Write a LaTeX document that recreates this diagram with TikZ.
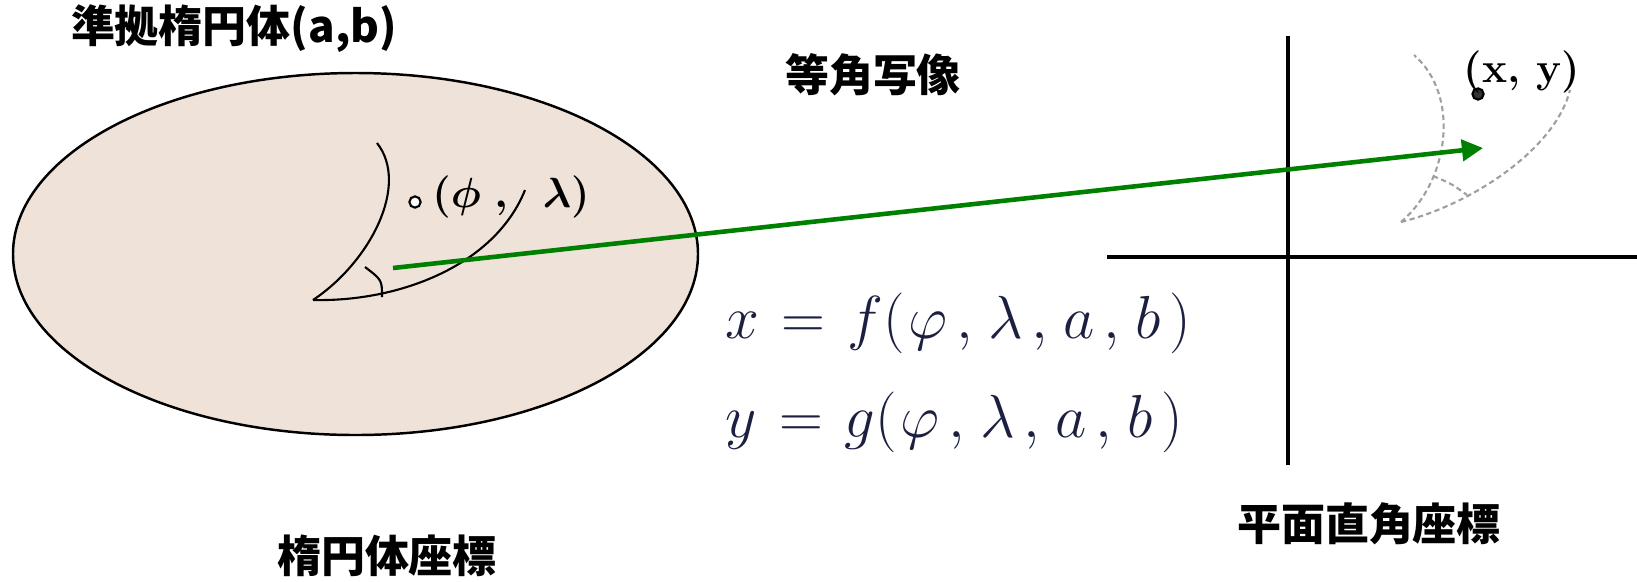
\documentclass[tikz,border=0pt]{standalone}
\usepackage{amsmath}
\usepackage{fontspec}
\newfontfamily\jpfont{Noto Sans CJK JP}
\usetikzlibrary{arrows.meta}
\definecolor{ellfill}{RGB}{239,226,217}
\definecolor{mapgreen}{RGB}{0,128,0}
\definecolor{eqnavy}{RGB}{28,32,64}
\begin{document}
\begin{tikzpicture}[
  x=0.01cm,y=-0.01cm,
  axis/.style={line width=1.1pt},
  curve/.style={line width=0.6pt},
  ghost/.style={line width=0.6pt,gray!75,dash pattern=on 1.5pt off 1pt},
  label/.style={font=\jpfont\bfseries\fontsize{12.5}{14}\selectfont,inner sep=0pt},
  coordlabel/.style={font=\bfseries\boldmath\fontsize{12}{14}\selectfont,inner sep=0pt},
  eqn/.style={font=\fontsize{17}{20}\selectfont,text=eqnavy,inner sep=0pt,anchor=west},
  pt/.style={circle,draw,inner sep=0pt,minimum size=3.2pt,line width=0.6pt}]
  \useasboundingbox (0,0) rectangle (1637,581);
  % ellipsoid
  \draw[line width=0.7pt,fill=ellfill] (355.5,254) ellipse [x radius=342.5,y radius=181];
  % plane axes
  \coordinate (AL) at (1107,257);
  \coordinate (AR) at (1637,257);
  \coordinate (AT) at (1288,36);
  \coordinate (AB) at (1288,465);
  \draw[axis] (AL)--(AR) (AT)--(AB);
  % curves on the ellipsoid
  \coordinate (O1) at (313,300);
  \draw[curve] (O1) .. controls (370,262) and (410,185) .. (377,143);
  \draw[curve] (O1) .. controls (400,302) and (495,265) .. (525,190);
  \draw[curve] (365,267) .. controls (382,280) .. (382,297);
  % curves on the plane
  \coordinate (O2) at (1401,222);
  \draw[ghost] (O2) .. controls (1450,180) and (1460,95) .. (1414,55);
  \draw[ghost] (O2) .. controls (1470,205) and (1555,150) .. (1570,90);
  \draw[ghost] (1433,176) .. controls (1452,184) .. (1467,195);
  % points
  \node[pt,fill=white] (P1) at (415,202) {};
  \node[pt,fill=black!80] (P2) at (1478,94) {};
  \node[coordlabel] (geo) at (511,197) {$(\phi\;,\;\;\lambda)$};
  \node[coordlabel] (grid) at (1522,72) {(x, y)};
  % mapping
  \coordinate (S) at (393,268);
  \coordinate (E) at (1483,148);
  \draw[line width=1.3pt,mapgreen,-{Triangle[length=6pt,width=6pt]}] (S) -- (E);
  \node[eqn] (eqx) at (725,323) {$x\hspace{1.5pt}=\hspace{1.5pt}f(\hspace{1pt}\varphi\hspace{2.5pt},\hspace{1.5pt}\lambda\hspace{2.5pt},\hspace{1.5pt}a\hspace{2.5pt},\hspace{1.5pt}b\hspace{2.5pt})$};
  \node[eqn] (eqy) at (725,422) {$y\hspace{1.5pt}=\hspace{1.5pt}g(\hspace{1pt}\varphi\hspace{2.5pt},\hspace{1.5pt}\lambda\hspace{2.5pt},\hspace{1.5pt}a\hspace{2.5pt},\hspace{1.5pt}b\hspace{2.5pt})$};
  % labels
  \node[label] (ellname) at (234,29) {準拠楕円体(a,b)};
  \node[label] (mapname) at (873,75) {等角写像};
  \node[label] (ellsys) at (387,556) {楕円体座標};
  \node[label] (planesys) at (1369,524) {平面直角座標};
\end{tikzpicture}
\end{document}
